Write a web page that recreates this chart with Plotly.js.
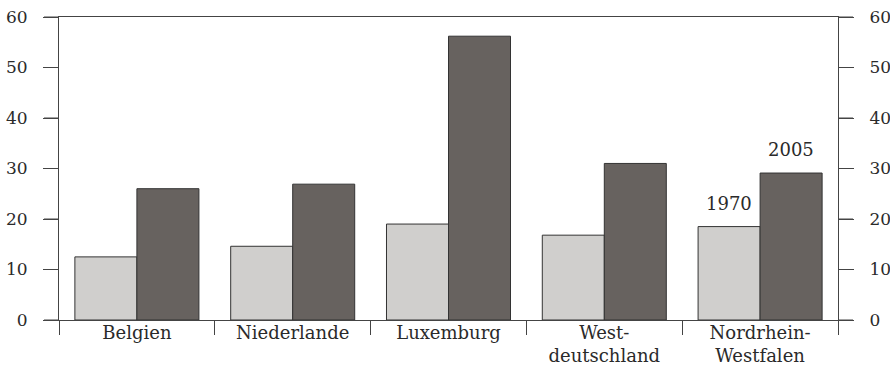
<!DOCTYPE html>
<html><head><meta charset="utf-8">
<script src="https://cdn.plot.ly/plotly-3.0.1.min.js"></script>
<style>html,body{margin:0;padding:0;background:#fff}</style>
</head><body>
<div id="chart" style="width:890px;height:370px"></div>
<script>
const categories = ["Belgien", "Niederlande", "Luxemburg", "West-<br>deutschland", "Nordrhein-<br>Westfalen"];
const values1970 = [12.5, 14.6, 19.0, 16.8, 18.5];
const values2005 = [26.0, 26.9, 56.2, 31.0, 29.1];
const seriesNames = ["1970", "2005"];
const yTicks = [0, 10, 20, 30, 40, 50, 60];
const yRange = [0, 60];

const fontFamily = "DejaVu Serif, Liberation Serif, serif";
const lineColor = "#444";
const textColor = "#2a2a2a";
const clear = "rgba(0,0,0,0)";

function dummy(xa, ya) {
  return {type: "scatter", x: categories, y: categories.map(() => 0), xaxis: xa, yaxis: ya,
          mode: "markers", marker: {opacity: 0}, showlegend: false, hoverinfo: "skip"};
}

const traces = [
  {type: "bar", x: categories, y: values1970, name: seriesNames[0],
   marker: {color: "#d0cfcd", line: {color: "#333", width: 1}}},
  {type: "bar", x: categories, y: values2005, name: seriesNames[1],
   marker: {color: "#67625f", line: {color: "#333", width: 1}}},
  dummy("x2", "y2"), dummy("x", "y3"), dummy("x", "y4")
];

// y-axis tick marks on both sides (domain refs so they are not clipped to the plot area)
const tickShapes = [];
yTicks.forEach(v => {
  const f = (v - yRange[0]) / (yRange[1] - yRange[0]);
  [[0, -15, 0], [1, 0, 15]].forEach(([anchor, a, b]) => {
    tickShapes.push({type: "line", xref: "x domain", xsizemode: "pixel", xanchor: anchor,
      x0: a, x1: b, yref: "y domain", y0: f, y1: f, layer: "above",
      line: {color: lineColor, width: 1}});
  });
});

const last = categories.length - 1;
const yTickAxis = {
  range: yRange, tickmode: "array", tickvals: yTicks,
  showline: true, linecolor: lineColor, linewidth: 1,
  ticks: "outside", ticklen: 15, tickcolor: lineColor, tickwidth: 1,
  showgrid: false, zeroline: false, showticklabels: false
};
const yLabelAxis = {
  range: yRange, tickmode: "array", tickvals: yTicks,
  showline: false, ticks: "outside", ticklen: 27, tickcolor: clear,
  showgrid: false, zeroline: false,
  tickfont: {family: fontFamily, size: 17, color: textColor}
};
const layout = {
  width: 890, height: 370,
  margin: {l: 59, r: 52, t: 17, b: 50},
  paper_bgcolor: "#fff", plot_bgcolor: "#fff",
  showlegend: false,
  barmode: "group", bargap: 0.204, bargroupgap: 0,
  font: {family: fontFamily, size: 18, color: textColor},
  xaxis: {
    type: "category", range: [-0.5, categories.length - 0.5],
    showline: true, linecolor: lineColor, linewidth: 1, mirror: true,
    ticks: "outside", tickson: "boundaries", ticklen: 14, tickcolor: lineColor, tickwidth: 1,
    showgrid: false, zeroline: false, showticklabels: false
  },
  xaxis2: {
    type: "category", overlaying: "x", side: "bottom", anchor: "y",
    range: [-0.5, categories.length - 0.5],
    showline: false, ticks: "",
    showgrid: false, zeroline: false,
    tickfont: {family: fontFamily, size: 18, color: textColor}
  },
  yaxis: Object.assign({}, yTickAxis, {side: "left"}),
  yaxis2: Object.assign({}, yTickAxis, {overlaying: "y", side: "right", anchor: "x"}),
  yaxis3: Object.assign({}, yLabelAxis, {overlaying: "y", side: "left", anchor: "x"}),
  yaxis4: Object.assign({}, yLabelAxis, {overlaying: "y", side: "right", anchor: "x"}),
  shapes: tickShapes,
  annotations: [
    {x: categories[last], y: values1970[last], xref: "x", yref: "y",
     text: seriesNames[0], showarrow: false, yanchor: "bottom", xshift: -31, yshift: 11,
     font: {family: fontFamily, size: 18, color: textColor}},
    {x: categories[last], y: values2005[last], xref: "x", yref: "y",
     text: seriesNames[1], showarrow: false, yanchor: "bottom", xshift: 31, yshift: 11,
     font: {family: fontFamily, size: 18, color: textColor}}
  ]
};

Plotly.newPlot("chart", traces, layout, {displayModeBar: false, staticPlot: true});
</script>
</body></html>
